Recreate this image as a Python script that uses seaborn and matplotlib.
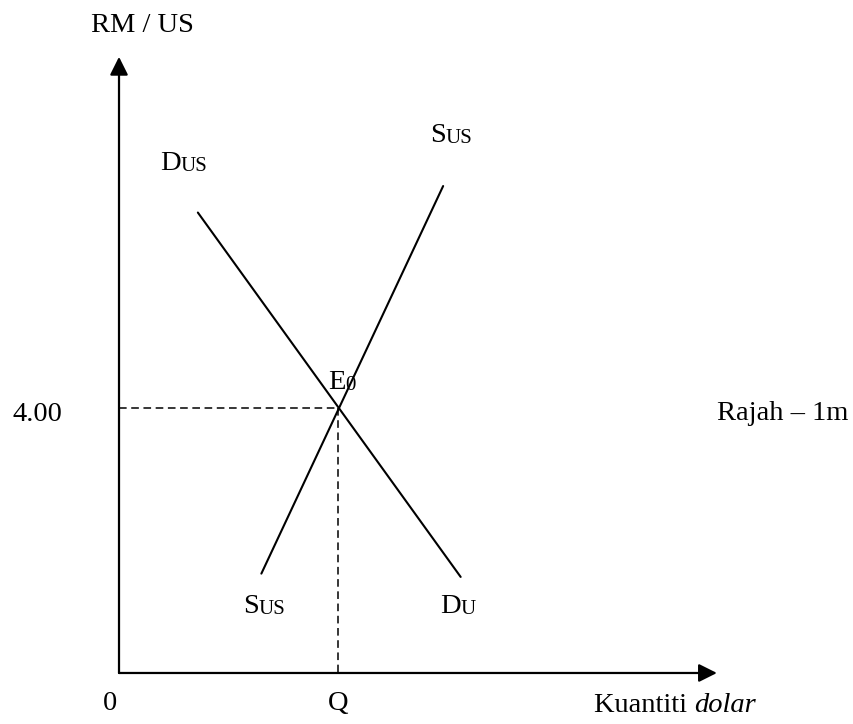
import numpy as np
import pandas as pd
import matplotlib
matplotlib.use("Agg")
import matplotlib.pyplot as plt
import seaborn as sns

# chart values (quantity in arbitrary units, price in RM per US$)
demand_q = [1.8, 7.8]
demand_p = [6.95, 1.45]
supply_q = [3.25, 7.4]
supply_p = [1.5, 7.35]
q_eq = 5.0
p_eq = 4.00
x_axis_end = 13.65
y_axis_end = 9.30

sns.set_theme(style="white")
plt.rcParams['font.family'] = ['Liberation Serif', 'DejaVu Serif']
plt.rcParams['text.color'] = 'black'

W, H = 854, 724
fig = plt.figure(figsize=(W / 100, H / 100), dpi=100)
ax = fig.add_axes([0, 0, 1, 1])
ax.set_xlim(-2.717, 16.78)
ax.set_ylim(-0.770, 10.158)
ax.set_axis_off()

df = pd.concat([
    pd.DataFrame({'q': demand_q, 'p': demand_p, 'curve': 'D'}),
    pd.DataFrame({'q': supply_q, 'p': supply_p, 'curve': 'S'}),
])
sns.lineplot(data=df, x='q', y='p', units='curve', estimator=None, sort=False,
             color='black', lw=1.5, ax=ax, legend=False)

# dashed guides to equilibrium
ax.plot([0, q_eq], [p_eq, p_eq], color='black', lw=1.1, ls=(0, (5, 3)))
ax.plot([q_eq, q_eq], [p_eq, 0], color='black', lw=1.1, ls=(0, (5, 3)))

# axes with arrowheads
arrow = dict(arrowstyle='-|>,head_length=1.1,head_width=0.55', color='black',
             lw=1.6, shrinkA=0, shrinkB=0, mutation_scale=10)
ax.annotate('', xy=(x_axis_end, 0), xytext=(0, 0), arrowprops=arrow)
ax.annotate('', xy=(0, y_axis_end), xytext=(0, 0), arrowprops=arrow)

BIG = 20.5
SMALL = 15


def px(x, y):
    return x / W, 1 - y / H


def smallcap(x, y, big, small, size=BIG):
    t = fig.text(*px(x, y), big, fontsize=size, ha='left', va='baseline')
    ax.annotate(small, xy=(1, 0), xycoords=t, fontsize=SMALL, ha='left', va='bottom')
    return t


fig.text(*px(142, 25), 'RM / US', fontsize=BIG, ha='center', va='center')
smallcap(160, 170, 'D', 'US')
smallcap(430, 142, 'S', 'US')
smallcap(328, 389, 'E', '0')
smallcap(243, 613, 'S', 'US')
smallcap(440, 613, 'D', 'U')
fig.text(*px(13, 421), '4.00', fontsize=BIG, ha='left', va='baseline')
fig.text(*px(848, 420), 'Rajah \u2013 1m', fontsize=BIG, ha='right', va='baseline')
fig.text(*px(110, 704), '0', fontsize=BIG, ha='center', va='center')
fig.text(*px(338, 704), 'Q', fontsize=BIG, ha='center', va='center')
t = fig.text(*px(594, 712), 'Kuantiti ', fontsize=BIG, ha='left', va='baseline')
ax.annotate('dolar', xy=(1, 0), xycoords=t, fontsize=BIG, style='italic',
            ha='left', va='bottom')

fig.savefig('out.png', dpi=100)
